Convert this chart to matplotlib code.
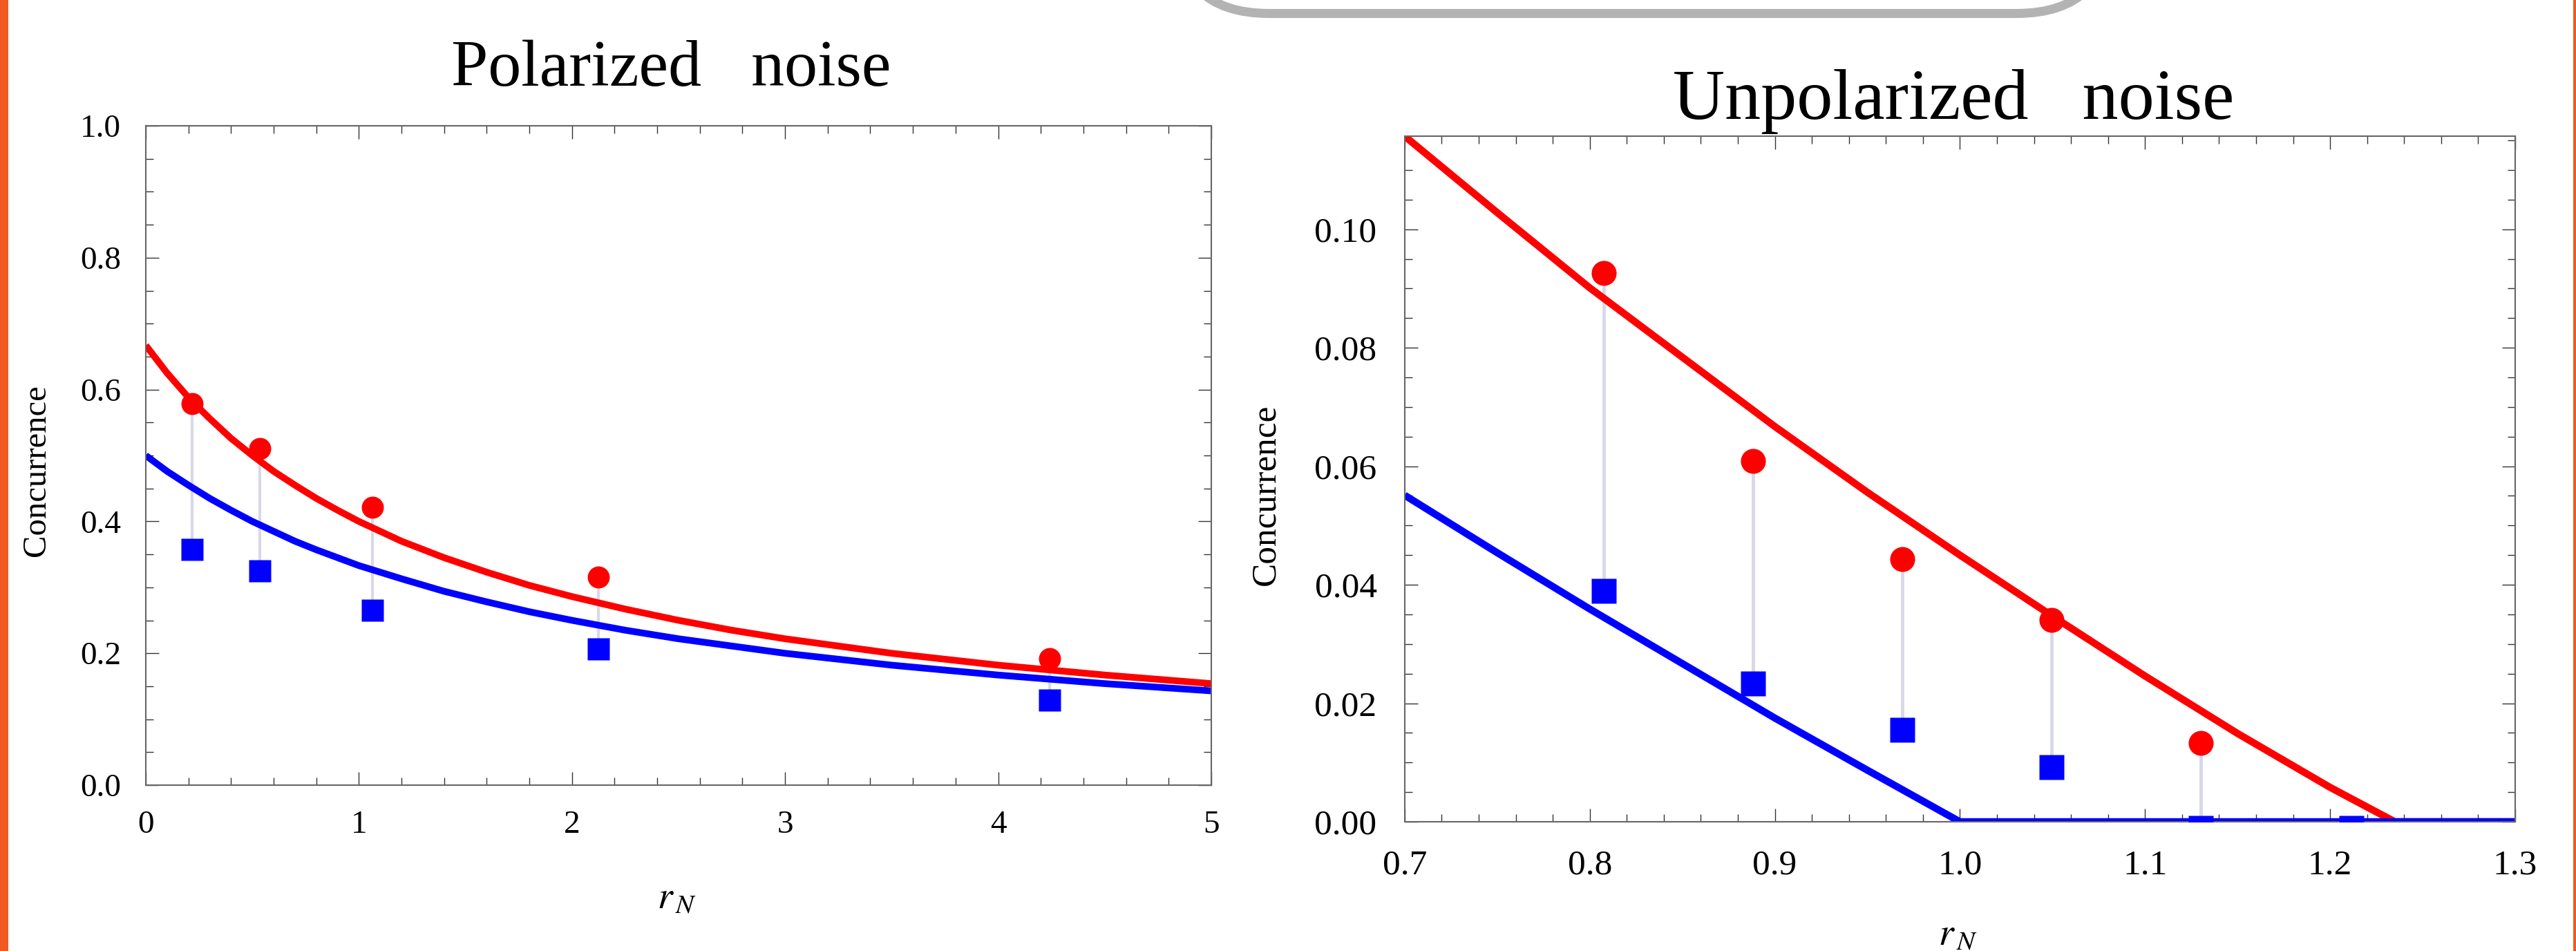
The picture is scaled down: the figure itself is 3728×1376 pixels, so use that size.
import matplotlib
matplotlib.use('Agg')
import matplotlib.pyplot as plt
from matplotlib.ticker import MultipleLocator, FormatStrFormatter
from matplotlib.patches import FancyBboxPatch, Rectangle
from matplotlib.transforms import IdentityTransform

plt.rcParams['font.family'] = ['Liberation Serif', 'DejaVu Serif']
plt.rcParams['mathtext.fontset'] = 'stix'

# ---- polarized noise (left panel) ----
pol_curve_x = [0, 0.1, 0.2, 0.3, 0.4, 0.5, 0.6, 0.7, 0.8, 0.9, 1.0, 1.2, 1.4, 1.6,
               1.8, 2.0, 2.25, 2.5, 2.75, 3.0, 3.5, 4.0, 4.5, 5.0]
pol_theory_red = [0.667, 0.625, 0.588, 0.556, 0.526, 0.500, 0.476, 0.455, 0.435,
                  0.417, 0.400, 0.370, 0.345, 0.323, 0.303, 0.286, 0.267, 0.250,
                  0.235, 0.222, 0.200, 0.182, 0.167, 0.154]
pol_theory_blue = [0.500, 0.476, 0.455, 0.435, 0.417, 0.400, 0.385, 0.370, 0.357,
                   0.345, 0.333, 0.313, 0.294, 0.278, 0.263, 0.250, 0.235, 0.222,
                   0.211, 0.200, 0.182, 0.167, 0.154, 0.143]
pol_x = [0.216, 0.536, 1.065, 2.124, 4.243]
pol_circles = [0.579, 0.510, 0.421, 0.316, 0.192]
pol_squares = [0.357, 0.325, 0.265, 0.207, 0.129]

# ---- unpolarized noise (right panel) ----
unp_red_x = [0.70, 0.75, 0.80, 0.85, 0.90, 0.95, 1.00, 1.05, 1.10, 1.15, 1.20, 1.235, 1.30]
unp_theory_red = [0.1157, 0.1028, 0.0901, 0.0784, 0.0667, 0.0556, 0.0450, 0.0347,
                  0.0246, 0.0149, 0.0058, 0.0, 0.0]
unp_blue_x = [0.70, 0.75, 0.80, 0.85, 0.90, 0.95, 1.00, 1.30]
unp_theory_blue = [0.0551, 0.0454, 0.0359, 0.0267, 0.0175, 0.0087, 0.0, 0.0]
unp_x = [0.8077, 0.8882, 0.9687, 1.0493, 1.130, 1.2115]
unp_circles = [0.0926, 0.0609, 0.0443, 0.0341, 0.0133, -0.0012]
unp_squares = [0.0389, 0.0233, 0.0155, 0.0092, -0.0010, -0.0010]

RED = '#ff0000'
BLUE = '#0000ff'
STEM = '#d8d8ea'
ORANGE = '#f15a22'

fig = plt.figure(figsize=(37.28, 13.76), dpi=100, facecolor='white')

# decoration: orange slide edges and the rounded box cut at the top
fig.add_artist(Rectangle((0, 0), 12, 1376, transform=IdentityTransform(),
                         facecolor=ORANGE, edgecolor='none'))
fig.add_artist(Rectangle((3724, 0), 4, 1376, transform=IdentityTransform(),
                         facecolor=ORANGE, edgecolor='none'))
fig.add_artist(FancyBboxPatch((1701, 1356.5), 3054 - 1701, 600,
                              boxstyle='round,pad=0,rounding_size=136',
                              transform=IdentityTransform(), facecolor='white',
                              edgecolor='#b3b3b3', linewidth=9.4))


def style_axes(ax, labelsize, pad):
    for sp in ax.spines.values():
        sp.set_color('#666666')
        sp.set_linewidth(1.5)
    ax.tick_params(which='both', direction='in', top=True, right=True,
                   color='#333333', width=1.0, labelsize=labelsize, pad=pad)
    ax.tick_params(which='major', length=13.7)
    ax.tick_params(which='minor', length=8)


ax1 = fig.add_axes([0.0566, 0.1744, 0.4136, 0.6933])
ax1.vlines(pol_x, pol_squares, pol_circles, colors=STEM, lw=3, zorder=1)
ax1.plot(pol_curve_x, pol_theory_red, color=RED, lw=7, solid_capstyle='butt', zorder=2)
ax1.plot(pol_curve_x, pol_theory_blue, color=BLUE, lw=7, solid_capstyle='butt', zorder=2)
ax1.plot(pol_x, pol_circles, 'o', color=RED, ms=23, mec='none', zorder=3)
ax1.plot(pol_x, pol_squares, 's', color=BLUE, ms=23, mec='none', zorder=3)
ax1.set_xlim(0, 5)
ax1.set_ylim(0, 1.0)
ax1.xaxis.set_major_locator(MultipleLocator(1))
ax1.xaxis.set_minor_locator(MultipleLocator(0.2))
ax1.yaxis.set_major_locator(MultipleLocator(0.2))
ax1.yaxis.set_minor_locator(MultipleLocator(0.05))
ax1.xaxis.set_major_formatter(FormatStrFormatter('%d'))
ax1.yaxis.set_major_formatter(FormatStrFormatter('%.1f'))
style_axes(ax1, 34, 26)
ax1.set_ylabel('Concurrence', fontsize=35, ha='center', va='center')
ax1.yaxis.set_label_coords(-0.1025, 0.477)
ax1.set_xlabel(r'$r_{\,N}$', fontsize=40, ha='center', va='center')
ax1.xaxis.set_label_coords(0.498, -0.172)

ax2 = fig.add_axes([0.5453, 0.1359, 0.4311, 0.7209])
ax2.vlines(unp_x, unp_squares, unp_circles, colors=STEM, lw=3.5, zorder=1)
ax2.plot(unp_red_x, unp_theory_red, color=RED, lw=7.5, solid_capstyle='butt', zorder=2)
ax2.plot(unp_blue_x, unp_theory_blue, color=BLUE, lw=7.5, solid_capstyle='butt', zorder=2)
ax2.plot(unp_x, unp_circles, 'o', color=RED, ms=26, mec='none', zorder=3)
ax2.plot(unp_x, unp_squares, 's', color=BLUE, ms=26, mec='none', zorder=4)
ax2.set_xlim(0.7, 1.3)
ax2.set_ylim(0, 0.1157)
ax2.xaxis.set_major_locator(MultipleLocator(0.1))
ax2.xaxis.set_minor_locator(MultipleLocator(0.02))
ax2.yaxis.set_major_locator(MultipleLocator(0.02))
ax2.yaxis.set_minor_locator(MultipleLocator(0.005))
ax2.xaxis.set_major_formatter(FormatStrFormatter('%.1f'))
ax2.yaxis.set_major_formatter(FormatStrFormatter('%.2f'))
style_axes(ax2, 37, 29)
ax2.set_ylabel('Concurrence', fontsize=37, ha='center', va='center')
ax2.yaxis.set_label_coords(-0.125, 0.477)
ax2.set_xlabel(r'$r_{\,N}$', fontsize=40, ha='center', va='center')
ax2.xaxis.set_label_coords(0.498, -0.165)

fig.text(0.2605, 1 - 124 / 1376, 'Polarized   noise', fontsize=69,
         ha='center', va='baseline')
fig.text(0.7583, 1 - 172 / 1376, 'Unpolarized   noise', fontsize=75,
         ha='center', va='baseline')

fig.savefig('out.png', dpi=100, facecolor='white')
